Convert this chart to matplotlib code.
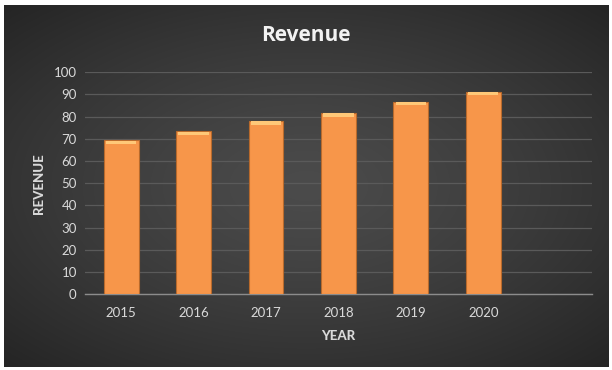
import numpy as np
from matplotlib import pyplot as plt

plt.rcParams['font.family'] = ['Lato', 'DejaVu Sans']

years = ['2015', '2016', '2017', '2018', '2019', '2020']
revenue = [69.3, 73.3, 77.9, 81.6, 86.7, 91.2]
y_ticks = [0, 10, 20, 30, 40, 50, 60, 70, 80, 90, 100]

fig = plt.figure(figsize=(6.12, 3.70), dpi=100)
fig.patch.set_facecolor('white')

# dark panel with a soft radial glow in the middle
bg = fig.add_axes([0.007, 0.008, 0.987, 0.978])
yy, xx = np.mgrid[-1:1:300j, -1:1:500j]
r = np.clip(np.sqrt((xx / 1.05) ** 2 + (yy / 1.0) ** 2), 0, 1.4) / 1.4
shade = 0x4b - (0x4b - 0x24) * r ** 1.3
img = np.dstack([shade, shade, shade]) / 255.0
bg.imshow(img, aspect='auto', extent=[0, 1, 0, 1], interpolation='bilinear')
bg.set_axis_off()

ax = fig.add_axes([0.139, 0.205, 0.828, 0.600])
ax.patch.set_alpha(0)

x = np.arange(len(years))
ax.bar(x, revenue, width=0.48, color='#f7964a', edgecolor='#b86a2c',
       linewidth=0.8, zorder=3)
# bevel highlight on the top of each bar
ax.bar(x, [1.5] * len(x), bottom=np.array(revenue) - 1.6, width=0.42,
       color='#ffc878', linewidth=0, zorder=4)

ax.set_xlim(-0.5, len(years) + 0.5)
ax.set_ylim(0, 100)
ax.set_yticks(y_ticks)
ax.set_xticks(x)
ax.set_xticklabels(years)
ax.tick_params(colors='#d9d9d9', labelsize=9.5, length=0, pad=6)
ax.tick_params(axis='x', pad=9)
ax.grid(axis='y', color='#5a5a5a', linewidth=0.9, zorder=0)
for s in ['top', 'right', 'left']:
    ax.spines[s].set_visible(False)
ax.spines['bottom'].set_color('#8c8c8c')
ax.spines['bottom'].set_linewidth(1.0)

ax.set_xlabel('YEAR', color='#d9d9d9', fontsize=9.5, fontweight='black', labelpad=8)
ax.set_ylabel('REVENUE', color='#d9d9d9', fontsize=9.5, fontweight='black', labelpad=6)

fig.text(0.5, 0.905, 'Revenue', ha='center', va='center', color='#f2f2f2',
         fontsize=15, fontweight='bold', family=['Open Sans', 'DejaVu Sans'])

fig.savefig('out.png', dpi=100)
